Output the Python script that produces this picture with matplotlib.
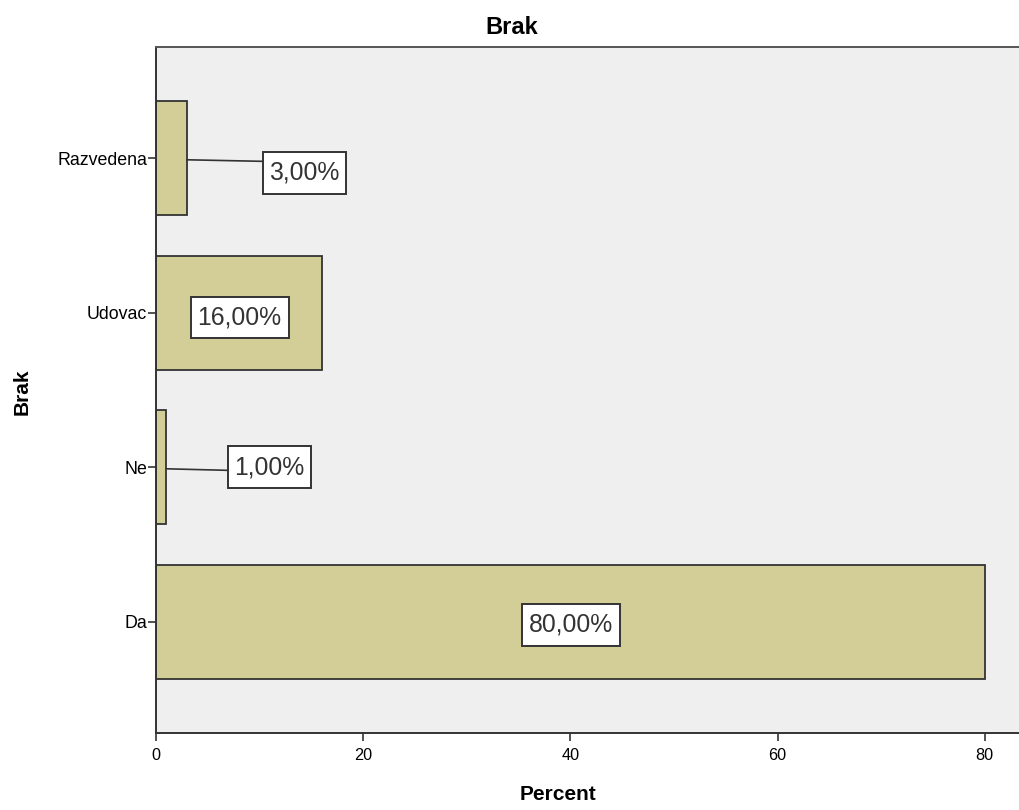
import numpy as np
import matplotlib.pyplot as plt
import matplotlib.transforms as mtransforms
from matplotlib.patches import Rectangle

plt.rcParams['font.family'] = ['Liberation Sans', 'DejaVu Sans']

categories = ['Da', 'Ne', 'Udovac', 'Razvedena']
percent = [80.0, 1.0, 16.0, 3.0]
# where each value box sits (x in percent units, y in category units)
label_x = [40.06, 10.96, 8.06, 14.33]
label_y = [-0.02, 1.0, 1.97, 2.906]
# left edge of the boxes that sit outside their bar (leader line ends here)
box_left = [None, 6.95, None, 10.3]

fig = plt.figure(figsize=(10.19, 8.10), dpi=100)
ax = fig.add_axes([156 / 1019, 1 - 733 / 810, (1019 - 156) / 1019, (733 - 47) / 810])
ax.set_facecolor('#efefef')

y = np.arange(len(categories))
ax.barh(y, percent, height=0.74, color='#d3ce97', edgecolor='#333333', linewidth=1.3, zorder=2)

ax.set_xlim(0, 83.3)
ax.set_ylim(-0.72, 3.72)
ax.set_yticks(y)
ax.set_yticklabels(categories, fontsize=12.8)
ax.set_xticks([0, 20, 40, 60, 80])
ax.set_xticklabels(['0', '20', '40', '60', '80'], fontsize=11.7,
                   family=['Liberation Sans Narrow', 'Liberation Sans'])
ax.tick_params(axis='x', length=6, width=1.2, color='#333333', pad=5)
ax.tick_params(axis='y', length=6, width=1.2, color='#333333', pad=0.3)

ax.spines['right'].set_visible(False)
for s in ['left', 'bottom', 'top']:
    ax.spines[s].set_color('#333333')
    ax.spines[s].set_linewidth(1.4)
ax.spines['top'].set_color('#555555')

for yi, v, lx, ly, bl in zip(y, percent, label_x, label_y, box_left):
    txt = f'{v:.2f}%'.replace('.', ',')
    if bl is not None:
        # leader line from the bar end to the box
        ax.plot([v, bl], [yi - 0.01, yi - 0.02], color='#333333', lw=1.2, zorder=3)
    # white box sized in inches, anchored on the label point
    wide = 0.98 if v >= 10 else 0.83
    tr = fig.dpi_scale_trans + mtransforms.ScaledTranslation(lx, ly, ax.transData)
    ax.add_patch(Rectangle((-wide / 2, -0.208), wide, 0.416, transform=tr, fc='white',
                           ec='#333333', lw=1.4, zorder=4, clip_on=False))
    ax.text(lx, ly, txt, fontsize=17.8, ha='center', va='center', color='#333333', zorder=5)

fig.text(512 / 1019, 1 - 27 / 810, 'Brak', ha='center', va='center', fontsize=17, fontweight='bold')
fig.text(22 / 1019, 1 - 392 / 810, 'Brak', ha='center', va='center', fontsize=15, fontweight='bold',
         rotation=90)
fig.text(558 / 1019, 1 - 795 / 810, 'Percent', ha='center', va='center', fontsize=15, fontweight='bold')

fig.savefig('out.png', dpi=100)
